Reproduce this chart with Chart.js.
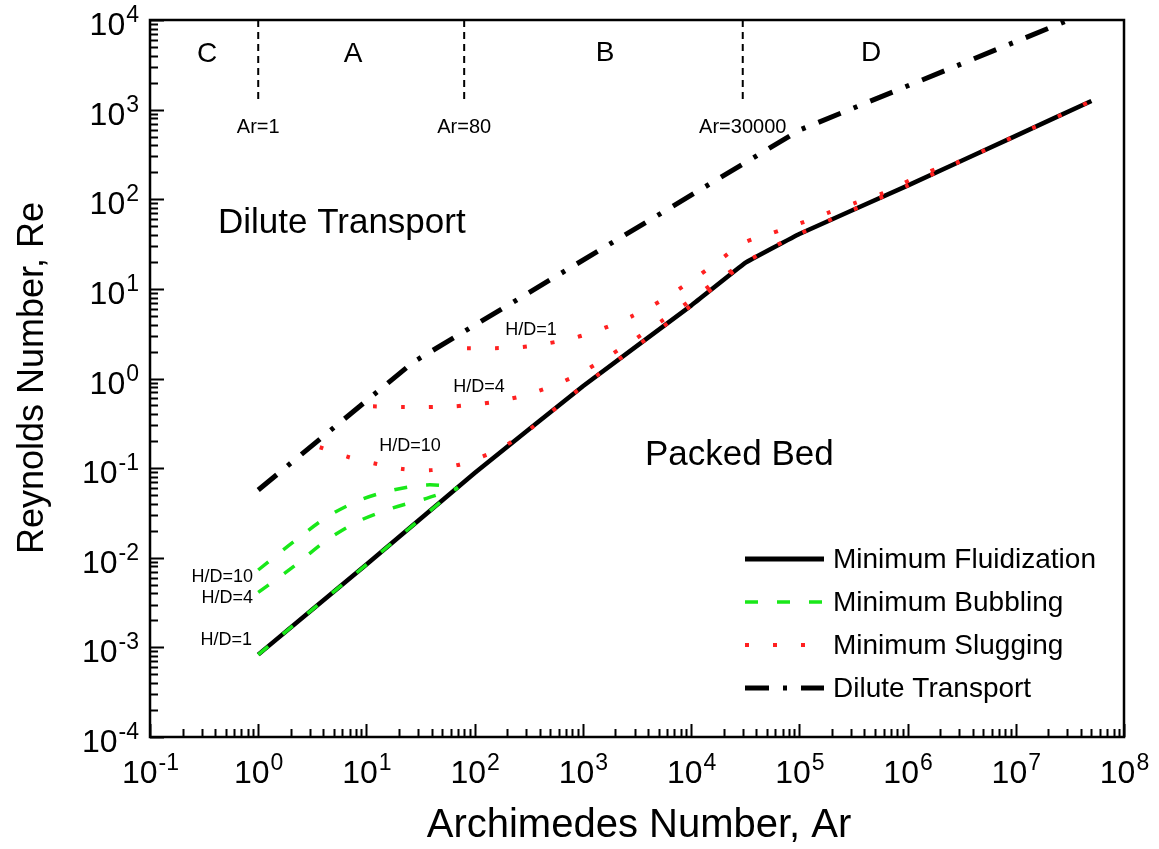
<!DOCTYPE html>
<html>
<head>
<meta charset="utf-8">
<script src="https://cdn.jsdelivr.net/npm/chart.js@4"></script>
<style>
  html, body { margin: 0; padding: 0; background: #fff; }
  canvas { display: block; }
</style>
</head>
<body>
<canvas id="regimeChart" width="1159" height="849"></canvas>
<script>
// tick exponents
const xExps = [-1, 0, 1, 2, 3, 4, 5, 6, 7, 8];
const yExps = [-4, -3, -2, -1, 0, 1, 2, 3, 4];

// minimum fluidization
const arMF = [1, 10, 100, 1000, 1e4, 3.16e4, 1e5, 1e6, 1e7, 5e7];
const reMF = [8.3e-4, 8.4e-3, 0.088, 0.82, 6.5, 19.5, 41, 142, 510, 1250];

// dilute transport
const arDilute = [1, 27, 1e5, 2.9e7];
const reDilute = [0.057, 1.52, 590, 9700];

// minimum bubbling, H/D = 1, 4, 10
const arBub1 = [1, 10, 70];
const reBub1 = [8.3e-4, 8.4e-3, 0.061];
const arBub4 = [1, 2.1, 4.3, 8.7, 17.6, 36, 70];
const reBub4 = [4.1e-3, 7.9e-3, 0.0157, 0.026, 0.036, 0.046, 0.06];
const arBub10 = [1, 2.1, 4.3, 8.7, 17.6, 36, 70];
const reBub10 = [7.3e-3, 0.0149, 0.0284, 0.044, 0.057, 0.065, 0.062];

// minimum slugging, H/D = 1, 4, 10
const arSlug1 = [85, 155, 274, 487, 884, 1570, 2850, 5170, 9370, 17000, 30300, 56100, 1.02e5, 1.81e5, 3.28e5, 5.95e5, 1.06e6, 1.92e6, 3e6];
const reSlug1 = [2.18, 2.18, 2.24, 2.48, 2.9, 3.65, 4.97, 7.3, 11.6, 19.4, 32.4, 42, 54, 70, 91, 117, 164, 223, 264];
const arSlug4 = [11.5, 21.3, 37, 66, 85, 148, 274, 487, 884, 1570, 2850, 5170, 9370, 17000, 31600];
const reSlug4 = [0.49, 0.48, 0.48, 0.49, 0.505, 0.546, 0.637, 0.8, 1.09, 1.65, 2.61, 4.26, 7.1, 12.2, 20];
const arSlug10 = [3.7, 6.8, 12.5, 21.8, 40, 69, 81, 148, 274, 1000, 1e4, 3.16e4, 1e5, 1e6, 1e7, 5e7];
const reSlug10 = [0.171, 0.133, 0.111, 0.0975, 0.095, 0.108, 0.114, 0.151, 0.233, 0.82, 6.5, 19.5, 41, 142, 510, 1250];

// regime boundaries
const boundaryAr = [1, 80, 30000];
const boundaryRe = [1e4, 1200];
const boundaryNames = ['Ar=1', 'Ar=80', 'Ar=30000'];

const FONT = '"Liberation Sans", Arial, Helvetica, sans-serif';
const GREEN = 'rgb(25,232,25)';
const RED = 'rgb(255,32,32)';

function pts(xs, ys) {
  return xs.map((x, i) => ({ x: x, y: ys[i] }));
}

const dotted = { borderColor: RED, borderWidth: 4, borderDash: [4, 24], borderCapStyle: 'butt', tension: 0.25, pointRadius: 0 };
const dashed = { borderColor: GREEN, borderWidth: 3.5, borderDash: [13, 19], borderCapStyle: 'butt', tension: 0.3, pointRadius: 0 };

const datasets = [
  Object.assign({ label: 'slug1', data: pts(arSlug1, reSlug1) }, dotted),
  Object.assign({ label: 'slug4', data: pts(arSlug4, reSlug4) }, dotted),
  Object.assign({ label: 'slug10', data: pts(arSlug10, reSlug10) }, dotted),
  Object.assign({ label: 'bub1', data: pts(arBub1, reBub1) }, dashed, { tension: 0 }),
  Object.assign({ label: 'bub4', data: pts(arBub4, reBub4) }, dashed),
  Object.assign({ label: 'bub10', data: pts(arBub10, reBub10), pointStyle: 'rect', pointBackgroundColor: GREEN, pointBorderWidth: 0,
    pointRadius: c => (c.dataIndex === arBub10.length - 1 ? 5 : 0) }, dashed),
  { label: 'Minimum Fluidization', data: pts(arMF, reMF), borderColor: '#000', borderWidth: 4.5, pointRadius: 0, tension: 0.05 },
  { label: 'Dilute Transport', data: pts(arDilute, reDilute), borderColor: '#000', borderWidth: 5, borderDash: [24, 14, 4, 14], borderCapStyle: 'butt', pointRadius: 0, tension: 0 }
];
boundaryAr.forEach(ar => {
  datasets.push({ label: 'Ar' + ar, data: boundaryRe.map(re => ({ x: ar, y: re })), borderColor: '#000', borderWidth: 2, borderDash: [7, 5], pointRadius: 0 });
});

const legendItems = [
  { text: 'Minimum Fluidization', color: '#000', width: 5, dash: [] },
  { text: 'Minimum Bubbling', color: GREEN, width: 3.5, dash: [13, 19] },
  { text: 'Minimum Slugging', color: RED, width: 4, dash: [4, 24] },
  { text: 'Dilute Transport', color: '#000', width: 5, dash: [24, 14, 4, 14] }
];

const notes = [
  { t: 'C', x: 207, y: 62, s: 28 },
  { t: 'A', x: 353, y: 62, s: 28 },
  { t: 'B', x: 605, y: 61, s: 28 },
  { t: 'D', x: 871, y: 61, s: 28 },
  { t: 'Dilute Transport', x: 218, y: 233, s: 35, a: 'left' },
  { t: 'Packed Bed', x: 645, y: 465, s: 35, a: 'left' },
  { t: 'H/D=1', x: 531, y: 335, s: 18 },
  { t: 'H/D=4', x: 479, y: 392, s: 18 },
  { t: 'H/D=10', x: 410, y: 451, s: 18 },
  { t: 'H/D=10', x: 253, y: 582, s: 18, a: 'right' },
  { t: 'H/D=4', x: 253, y: 603, s: 18, a: 'right' },
  { t: 'H/D=1', x: 252, y: 645, s: 18, a: 'right' }
];

const decor = {
  id: 'decor',
  afterDraw(chart) {
    const ctx = chart.ctx;
    const area = chart.chartArea;
    const xs = chart.scales.x, ys = chart.scales.y;
    ctx.save();
    ctx.fillStyle = '#000';
    ctx.strokeStyle = '#000';

    // frame
    ctx.lineWidth = 2.5;
    ctx.strokeRect(area.left, area.top, area.right - area.left, area.bottom - area.top);

    // inward ticks
    ctx.lineWidth = 2;
    ctx.beginPath();
    for (let e = xExps[0]; e <= xExps[xExps.length - 1]; e++) {
      for (let m = 1; m <= 9; m++) {
        const v = m * Math.pow(10, e);
        if (v > xs.max * 1.0001) break;
        const px = Math.round(xs.getPixelForValue(v)) + 0.5;
        const len = m === 1 ? 13 : 8;
        ctx.moveTo(px, area.bottom);
        ctx.lineTo(px, area.bottom - len);
      }
    }
    for (let e = yExps[0]; e <= yExps[yExps.length - 1]; e++) {
      for (let m = 1; m <= 9; m++) {
        const v = m * Math.pow(10, e);
        if (v > ys.max * 1.0001) break;
        const py = Math.round(ys.getPixelForValue(v)) + 0.5;
        const len = m === 1 ? 14 : 8;
        ctx.moveTo(area.left, py);
        ctx.lineTo(area.left + len, py);
      }
    }
    ctx.stroke();

    // tick labels
    const base = '32px ' + FONT, sup = '23px ' + FONT;
    ctx.textBaseline = 'alphabetic';
    ctx.textAlign = 'left';
    xExps.forEach(e => {
      const px = xs.getPixelForValue(Math.pow(10, e));
      ctx.font = base; const w1 = ctx.measureText('10').width;
      ctx.font = sup; const w2 = ctx.measureText(String(e)).width;
      const x0 = px - (w1 + w2) / 2;
      ctx.font = base; ctx.fillText('10', x0, 783);
      ctx.font = sup; ctx.fillText(String(e), x0 + w1 + 1, 770);
    });
    yExps.forEach(e => {
      const py = ys.getPixelForValue(Math.pow(10, e));
      ctx.font = base; const w1 = ctx.measureText('10').width;
      ctx.font = sup; const w2 = ctx.measureText(String(e)).width;
      const x0 = 139 - w1 - w2 - 1;
      ctx.font = base; ctx.fillText('10', x0, py + 15);
      ctx.font = sup; ctx.fillText(String(e), x0 + w1 + 1, py + 2);
    });

    // axis titles
    ctx.font = '40px ' + FONT;
    ctx.textAlign = 'center';
    ctx.fillText('Archimedes Number, Ar', 639, 837);
    ctx.save();
    ctx.translate(43, 378);
    ctx.rotate(-Math.PI / 2);
    ctx.font = '36px ' + FONT;
    ctx.fillText('Reynolds Number, Re', 0, 0);
    ctx.restore();

    // boundary labels
    ctx.font = '20px ' + FONT;
    ctx.textAlign = 'center';
    boundaryAr.forEach((ar, i) => {
      ctx.fillText(boundaryNames[i], xs.getPixelForValue(ar), 133);
    });

    // annotations
    notes.forEach(n => {
      ctx.font = n.s + 'px ' + FONT;
      ctx.textAlign = n.a || 'center';
      ctx.fillText(n.t, n.x, n.y);
    });

    // legend
    legendItems.forEach((it, i) => {
      const y = 559 + i * 43;
      ctx.save();
      ctx.strokeStyle = it.color;
      ctx.lineWidth = it.width;
      ctx.lineCap = 'butt';
      ctx.setLineDash(it.dash);
      ctx.beginPath();
      ctx.moveTo(745, y);
      ctx.lineTo(824, y);
      ctx.stroke();
      ctx.restore();
      ctx.font = '28px ' + FONT;
      ctx.textAlign = 'left';
      ctx.textBaseline = 'middle';
      ctx.fillText(it.text, 833, y + 1);
      ctx.textBaseline = 'alphabetic';
    });
    ctx.restore();
  }
};

new Chart(document.getElementById('regimeChart'), {
  type: 'line',
  data: { datasets: datasets },
  options: {
    responsive: false,
    animation: false,
    devicePixelRatio: 1,
    layout: { padding: { left: 150, right: 35, top: 20, bottom: 112 } },
    scales: {
      x: { type: 'logarithmic', min: 0.1, max: 1e8, display: false },
      y: { type: 'logarithmic', min: 1e-4, max: 1e4, display: false }
    },
    plugins: { legend: { display: false }, tooltip: { enabled: false } }
  },
  plugins: [decor]
});
</script>
</body>
</html>
